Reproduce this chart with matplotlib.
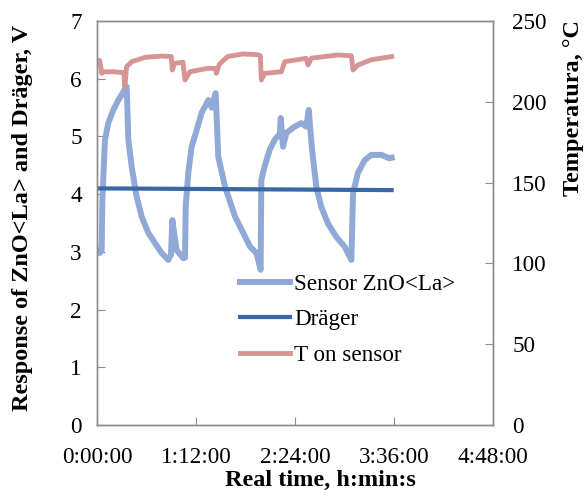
import numpy as np
import matplotlib
matplotlib.use("Agg")
import matplotlib.pyplot as plt
from matplotlib.ticker import FixedLocator, FuncFormatter

plt.rcParams['font.family'] = ['Liberation Serif', 'DejaVu Serif']

# время в минутах, отклик в вольтах
t_sensor = [0, 2.0, 3.4, 3.9, 5.8, 8.2, 11.9, 15.5, 17.9, 20.4, 21.6, 22.8, 25.2,
            28.8, 32.5, 37.3, 42.2, 47, 51.9, 53.8, 54.8, 57.9, 62.8, 64.0, 64.5,
            66.4, 68.8, 72.5, 76.1, 81, 83.4, 86.3, 88.2, 93.1, 100.4, 104,
            111.3, 115.9, 119, 119.5, 121.9, 125.6, 129.2, 133.0, 133.6, 135.3,
            137.7, 143.8, 148.6, 152.2, 154, 156.4, 159.5, 163.1, 168, 174, 180.1,
            185, 186.2, 189.8, 194.7, 199.5, 206.8, 212.8, 214.3]
v_sensor = [3.03, 2.98, 3.03, 3.9, 4.94, 5.23, 5.46, 5.63, 5.72, 5.82, 5.86, 4.94, 4.48,
            3.96, 3.61, 3.33, 3.15, 2.98, 2.86, 2.95, 3.55, 3.03, 2.89, 2.9, 3.78,
            4.37, 4.82, 5.11, 5.41, 5.63, 5.5, 5.75, 4.65, 4.13, 3.61, 3.44,
            3.09, 2.98, 2.69, 4.25, 4.48, 4.77, 4.94, 5.05, 5.32, 4.82,
            5.06, 5.17, 5.23, 5.17, 5.46, 4.77, 4.13, 3.78, 3.49, 3.26, 3.09,
            2.86, 4.02, 4.37, 4.59, 4.68, 4.68, 4.62, 4.63]

t_drager = [0, 214.3]
v_drager = [4.10, 4.07]

t_temp = [0, 2.0, 3.4, 4.5, 12, 19.5, 20.3, 21.5, 25.2, 35.0, 47, 54.0, 54.8, 56.5,
          62.5, 64.0, 67.6, 80.5, 86.0, 86.8, 89.0, 95.0, 106, 116.4, 118.8, 119.5,
          121.9, 134.1, 136.5, 152.0, 153.5, 155.9, 175.3, 185.0, 186.2, 189.8,
          199.5, 214.3]
T_temp = [225.9, 225.5, 217.6, 218.6, 218.6, 218.0, 209.3, 221.7, 224.8, 227.5, 228.3, 228.0, 219.7, 223.8,
          224.5, 213.5, 218.6, 220.7, 220.7, 217.6, 223.3, 228, 229.6, 229.2, 228.5, 213.5,
          217.6, 218.6, 224.8, 226.9, 222.8, 227, 229, 228.5, 219.7, 222.8,
          226, 228]

c_sensor = "#91A9D6"
c_drager = "#3A67A5"
c_temp = "#D69594"
gray = "#8C8C8C"

fig = plt.figure(figsize=(5.84, 4.97), dpi=100)
ax = fig.add_axes([97/584, 1-425/497, 396/584, 404/497])
ax2 = ax.twinx()

l1, = ax.plot(t_sensor, v_sensor, color=c_sensor, lw=4.3, solid_joinstyle='round', zorder=2)
l2, = ax.plot(t_drager, v_drager, color=c_drager, lw=3, zorder=3)
l3, = ax2.plot(t_temp, T_temp, color=c_temp, lw=3.5, solid_joinstyle='round')

ax.set_xlim(0, 288)
ax.set_ylim(0, 7)
ax2.set_ylim(0, 250)

def hms(x, pos):
    m = int(round(x))
    return "%d:%02d:00" % (m // 60, m % 60)

ax.xaxis.set_major_locator(FixedLocator([0, 72, 144, 216, 288]))
ax.xaxis.set_major_formatter(FuncFormatter(hms))
ax.set_yticks(range(0, 8))
ax2.set_yticks(range(0, 251, 50))

fs = 16.7
fl = 17.5
for a in (ax, ax2):
    for s in a.spines.values():
        s.set_color(gray)
        s.set_linewidth(1)
    a.tick_params(direction='in', length=6, color=gray, labelsize=fs)
ax.tick_params(axis='y', pad=11)
ax.tick_params(axis='x', pad=16)
ax2.tick_params(axis='y', pad=14)

ax.set_xlabel("Real time, h:min:s", fontsize=fl, fontweight='bold')
ax.xaxis.set_label_coords((320-97)/396, -(480-425)/404 - 0.0)
ax.xaxis.label.set_va('center')
fig.text(23/584, 1-218/497, "Response of ZnO<La> and Dräger, V", rotation=90,
         ha='center', va='center', fontsize=fl, fontweight='bold')
fig.text(574/584, 1-20/497, "Temperatura, °C", rotation=90,
         ha='center', va='top', fontsize=fl, fontweight='bold')

ax2.legend([l1, l2, l3], ["Sensor ZnO<La>", "Dräger", "T on sensor"],
           loc='upper left', bbox_to_anchor=(0.361, 0.375), frameon=False,
           fontsize=fs, handlelength=2.15, handletextpad=0.2, labelspacing=0.62,
           borderaxespad=0, borderpad=0)

fig.savefig("out.png", dpi=100)
